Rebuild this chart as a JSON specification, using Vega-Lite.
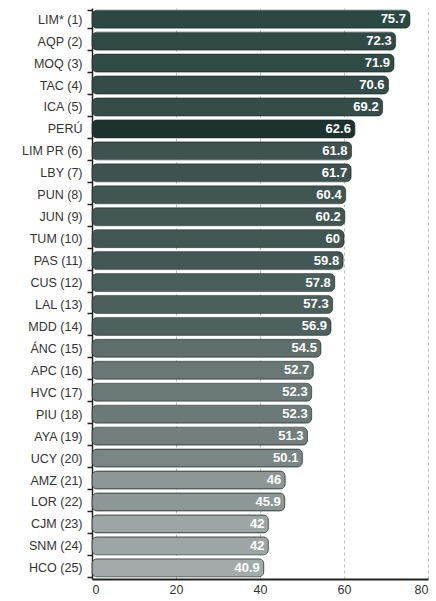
{
  "$schema": "https://vega.github.io/schema/vega-lite/v6.json",
  "autosize": "none",
  "width": 336,
  "height": 571,
  "padding": {"left": 92, "top": 8, "right": 8, "bottom": 22},
  "background": "white",
  "config": {
    "font": "Liberation Sans",
    "view": {"stroke": null}
  },
  "data": {
    "values": [
      {"region": "LIM* (1)", "value": 75.7},
      {"region": "AQP (2)", "value": 72.3},
      {"region": "MOQ (3)", "value": 71.9},
      {"region": "TAC (4)", "value": 70.6},
      {"region": "ICA (5)", "value": 69.2},
      {"region": "PERÚ", "value": 62.6},
      {"region": "LIM PR (6)", "value": 61.8},
      {"region": "LBY (7)", "value": 61.7},
      {"region": "PUN (8)", "value": 60.4},
      {"region": "JUN (9)", "value": 60.2},
      {"region": "TUM (10)", "value": 60},
      {"region": "PAS (11)", "value": 59.8},
      {"region": "CUS (12)", "value": 57.8},
      {"region": "LAL (13)", "value": 57.3},
      {"region": "MDD (14)", "value": 56.9},
      {"region": "ÁNC (15)", "value": 54.5},
      {"region": "APC (16)", "value": 52.7},
      {"region": "HVC (17)", "value": 52.3},
      {"region": "PIU (18)", "value": 52.3},
      {"region": "AYA (19)", "value": 51.3},
      {"region": "UCY (20)", "value": 50.1},
      {"region": "AMZ (21)", "value": 46},
      {"region": "LOR (22)", "value": 45.9},
      {"region": "CJM (23)", "value": 42},
      {"region": "SNM (24)", "value": 42},
      {"region": "HCO (25)", "value": 40.9}
    ]
  },
  "encoding": {
    "y": {
      "field": "region",
      "type": "nominal",
      "sort": null,
      "title": null,
      "scale": {"paddingInner": 0.18, "paddingOuter": 0.1},
      "axis": {
        "labelFontSize": 12.5,
        "labelColor": "#333333",
        "labelPadding": 5,
        "tickBand": "extent",
        "tickColor": "#222222",
        "tickSize": 5,
        "tickWidth": 1.5,
        "domainColor": "#222222",
        "domainWidth": 1.5
      }
    },
    "x": {
      "field": "value",
      "type": "quantitative",
      "title": null,
      "scale": {"domain": [0, 80]},
      "axis": {
        "values": [0, 20, 40, 60, 80],
        "labelFontSize": 12.5,
        "labelColor": "#333333",
        "labelPadding": 4,
        "ticks": false,
        "domainColor": "#222222",
        "domainWidth": 2,
        "grid": true,
        "gridColor": "#bbbbbb",
        "gridDash": [3, 3],
        "gridWidth": 1
      }
    }
  },
  "layer": [
    {
      "mark": {"type": "bar", "cornerRadius": 5, "stroke": "#1f2e2b", "strokeWidth": 1, "strokeOpacity": 0.6},
      "encoding": {
        "color": {
          "condition": {"test": "datum.region === 'PERÚ'", "value": "#1c322e"},
          "field": "value",
          "type": "quantitative",
          "scale": {"domain": [40.9, 46, 50.1, 57, 61, 75.7], "range": ["#a3aaa9", "#8d9795", "#7a8684", "#4d605d", "#3f5451", "#2c4843"]},
          "legend": null
        }
      }
    },
    {
      "mark": {"type": "text", "align": "right", "baseline": "middle", "dx": -4, "fontSize": 13, "fontWeight": "bold", "color": "white"},
      "encoding": {
        "text": {"field": "value", "type": "quantitative"}
      }
    }
  ]
}
